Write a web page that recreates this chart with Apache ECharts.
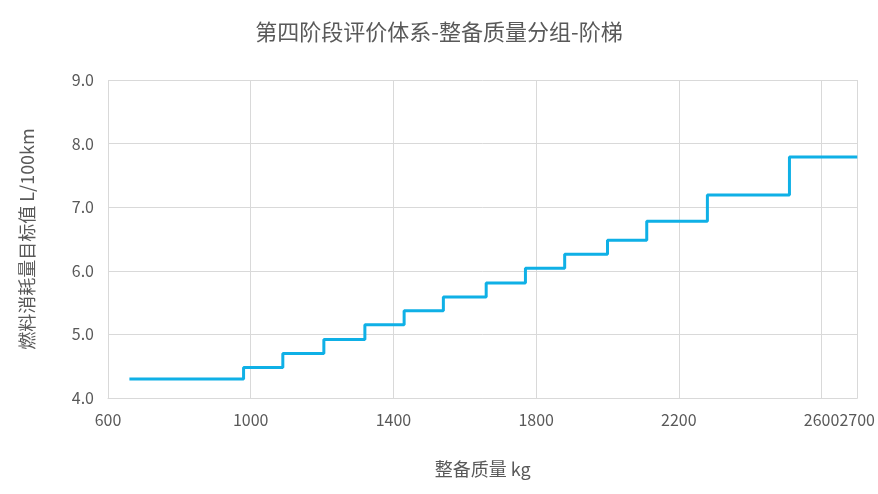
<!DOCTYPE html>
<html>
<head>
<meta charset="utf-8">
<script src="https://cdn.jsdelivr.net/npm/echarts@6/dist/echarts.min.js"></script>
<style>html,body{margin:0;padding:0;background:#fff}#c{width:878px;height:494px}</style>
</head>
<body>
<div id="c"></div>
<script>
// 整备质量分组起点 (kg) 与目标值 (L/100km)
let massStart = [660, 980, 1090, 1205, 1320, 1430, 1540, 1660, 1770, 1880, 2000, 2110, 2280, 2510, 2700];
let target = [4.3, 4.48, 4.7, 4.92, 5.15, 5.37, 5.59, 5.81, 6.04, 6.26, 6.48, 6.78, 7.19, 7.79, 7.79];

let chart = echarts.init(document.getElementById('c'));
let font = '"Noto Sans CJK SC", "Noto Sans", sans-serif';

let option = {
    title: {
        text: '第四阶段评价体系-整备质量分组-阶梯',
        left: 'center',
        top: 16,
        textStyle: {color: '#595959', fontSize: 22, fontWeight: 'normal', fontFamily: font}
    },
    grid: {left: 108, right: 18, top: 80, bottom: 96},
    xAxis: {
        type: 'value',
        min: 600,
        max: 2700,
        interval: 400,
        name: '整备质量 kg',
        nameLocation: 'middle',
        nameGap: 62,
        nameTextStyle: {color: '#595959', fontSize: 18, fontFamily: font},
        axisLine: {show: true, lineStyle: {color: '#d9d9d9'}},
        axisTick: {show: false},
        axisLabel: {color: '#595959', fontSize: 16, margin: 14, fontFamily: font,
            formatter: v => String(v)},
        splitLine: {show: true, lineStyle: {color: '#d9d9d9'}}
    },
    yAxis: {
        type: 'value',
        min: 4,
        max: 9,
        interval: 1,
        name: '燃料消耗量目标值 L/100km',
        nameLocation: 'middle',
        nameGap: 72,
        nameTextStyle: {color: '#595959', fontSize: 18, fontFamily: font},
        axisLine: {show: false},
        axisTick: {show: false},
        axisLabel: {color: '#595959', fontSize: 16, margin: 14, fontFamily: font,
            formatter: v => v.toFixed(1)},
        splitLine: {show: true, lineStyle: {color: '#d9d9d9'}}
    },
    series: [{
        type: 'line',
        step: 'end',
        symbol: 'none',
        lineStyle: {color: '#0fb0e6', width: 3},
        data: massStart.map((m, i) => [m, target[i]])
    }]
};

chart.setOption(option);
</script>
</body>
</html>
